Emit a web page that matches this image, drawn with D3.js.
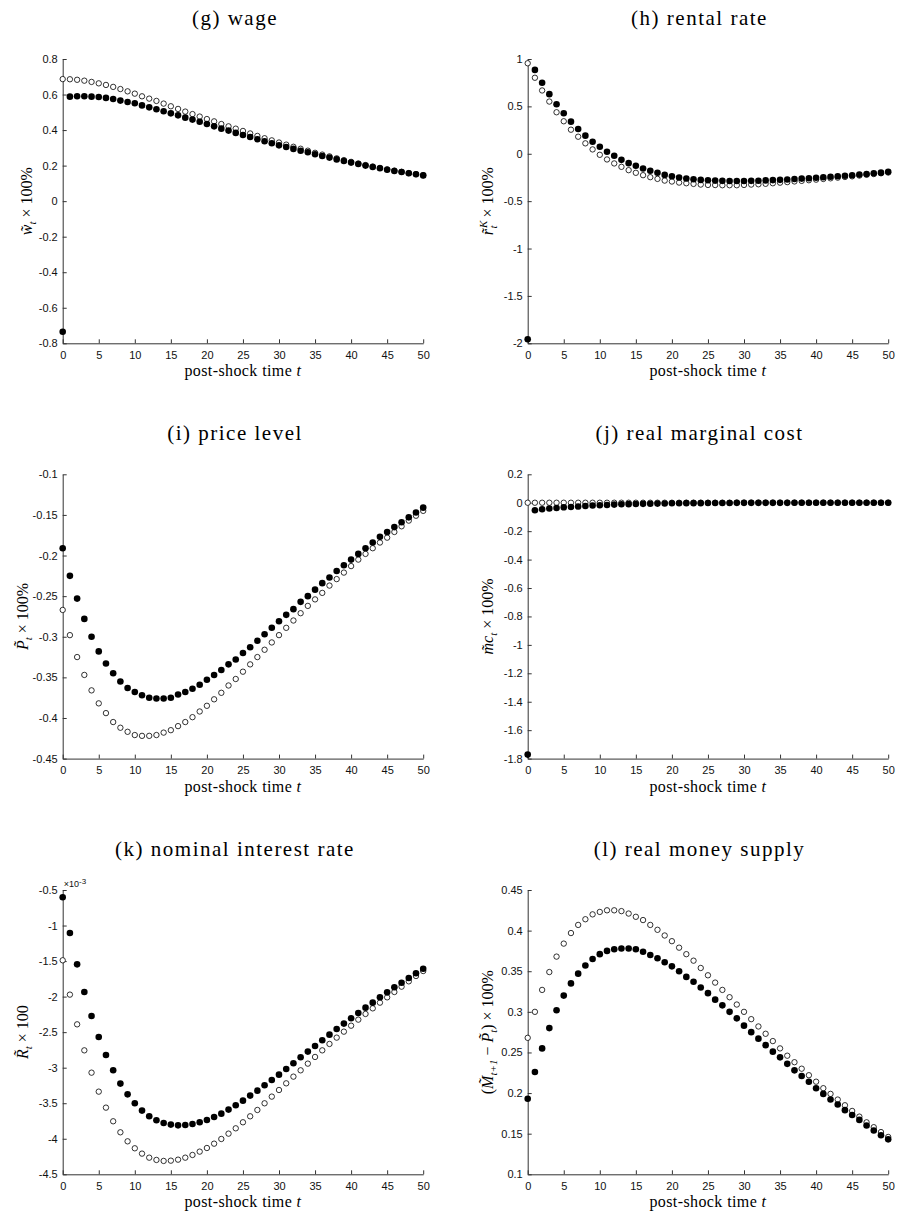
<!DOCTYPE html>
<html>
<head>
<meta charset="utf-8">
<script src="https://cdn.jsdelivr.net/npm/d3@7"></script>
<style>
  body { margin: 0; background: #fff; }
  .title { font-family: "Liberation Serif", serif; font-size: 21px; letter-spacing: 1.5px; fill: #000; }
  .xlab { font-family: "Liberation Serif", serif; font-size: 16px; letter-spacing: 0.4px; fill: #000; }
  .ylab { font-family: "Liberation Serif", serif; font-size: 16px; fill: #000; }
  .axis text { font-family: "Liberation Sans", Arial, sans-serif; font-size: 11px; fill: #111; }
  .axis path, .axis line { stroke: #333; stroke-width: 1; }
</style>
</head>
<body>
<div class="chart"></div>
<script>
// post-shock periods
var periods = [0,1,2,3,4,5,6,7,8,9,10,11,12,13,14,15,16,17,18,19,20,21,22,23,24,25,
               26,27,28,29,30,31,32,33,34,35,36,37,38,39,40,41,42,43,44,45,46,47,48,49,50];
var xTicks = [0,5,10,15,20,25,30,35,40,45,50];

// (g) wage
var wageOpen = [0.687,0.686,0.683,0.678,0.671,0.663,0.654,0.643,0.631,0.618,0.605,0.590,0.577,0.564,0.549,0.534,0.519,0.504,0.490,0.476,
                0.462,0.449,0.434,0.421,0.408,0.395,0.381,0.367,0.354,0.342,0.330,0.318,0.306,0.295,0.284,0.272,0.262,0.252,0.241,0.231,
                0.221,0.212,0.203,0.195,0.187,0.179,0.172,0.165,0.158,0.152,0.146];
var wageFilled = [-0.735,0.588,0.590,0.590,0.588,0.586,0.581,0.575,0.566,0.558,0.551,0.539,0.528,0.517,0.506,0.494,0.483,0.470,0.459,0.447,
                  0.434,0.421,0.408,0.397,0.384,0.372,0.361,0.348,0.337,0.326,0.314,0.305,0.294,0.284,0.275,0.264,0.254,0.245,0.235,0.226,
                  0.217,0.209,0.200,0.192,0.185,0.177,0.170,0.164,0.157,0.151,0.145];
var wageTicks = [-0.8,-0.6,-0.4,-0.2,0,0.2,0.4,0.6,0.8];

// (h) rental rate
var rentOpen = [0.955,0.802,0.668,0.551,0.438,0.343,0.254,0.180,0.110,0.046,-0.011,-0.060,-0.102,-0.138,-0.173,-0.201,-0.226,-0.247,-0.265,-0.283,
                -0.293,-0.304,-0.311,-0.318,-0.325,-0.329,-0.330,-0.332,-0.332,-0.332,-0.329,-0.325,-0.322,-0.317,-0.311,-0.305,-0.299,-0.292,-0.286,-0.279,
                -0.273,-0.266,-0.259,-0.252,-0.245,-0.238,-0.230,-0.222,-0.214,-0.206,-0.198];
var rentFilled = [-1.958,0.885,0.749,0.629,0.523,0.428,0.339,0.261,0.191,0.127,0.074,0.021,-0.021,-0.064,-0.099,-0.127,-0.155,-0.180,-0.201,-0.223,
                  -0.237,-0.251,-0.261,-0.269,-0.276,-0.279,-0.283,-0.286,-0.287,-0.287,-0.287,-0.286,-0.284,-0.281,-0.278,-0.275,-0.271,-0.266,-0.262,-0.258,
                  -0.253,-0.248,-0.243,-0.238,-0.232,-0.226,-0.220,-0.213,-0.206,-0.199,-0.191];
var rentTicks = [-2,-1.5,-1,-0.5,0,0.5,1];

// (i) price level
var priceOpen = [-0.267,-0.298,-0.325,-0.347,-0.366,-0.382,-0.394,-0.405,-0.412,-0.417,-0.421,-0.422,-0.422,-0.421,-0.418,-0.415,-0.410,-0.405,-0.399,-0.392,
                 -0.385,-0.377,-0.369,-0.360,-0.352,-0.343,-0.334,-0.325,-0.316,-0.307,-0.298,-0.289,-0.280,-0.271,-0.262,-0.254,-0.246,-0.237,-0.229,-0.221,
                 -0.213,-0.205,-0.198,-0.191,-0.184,-0.178,-0.171,-0.164,-0.157,-0.151,-0.145];
var priceFilled = [-0.191,-0.225,-0.253,-0.278,-0.300,-0.318,-0.333,-0.345,-0.355,-0.363,-0.368,-0.372,-0.375,-0.376,-0.376,-0.375,-0.371,-0.368,-0.364,-0.359,
                   -0.353,-0.347,-0.341,-0.334,-0.328,-0.320,-0.313,-0.305,-0.297,-0.289,-0.281,-0.273,-0.266,-0.257,-0.250,-0.242,-0.234,-0.227,-0.219,-0.212,
                   -0.205,-0.198,-0.191,-0.184,-0.177,-0.171,-0.165,-0.159,-0.153,-0.147,-0.141];
var priceTicks = [-0.45,-0.4,-0.35,-0.3,-0.25,-0.2,-0.15,-0.1];

// (j) real marginal cost
var mcOpen = [0,0,0,0,0,0,0,0,0,0,0,0,0,0,0,0,0,0,0,0,
              0,0,0,0,0,0,0,0,0,0,0,0,0,0,0,0,0,0,0,0,
              0,0,0,0,0,0,0,0,0,0,0];
var mcFilled = [-1.772,-0.053,-0.046,-0.041,-0.037,-0.032,-0.030,-0.027,-0.023,-0.020,-0.018,-0.016,-0.013,-0.011,-0.010,-0.009,-0.008,-0.007,-0.006,-0.005,
                -0.004,-0.004,-0.003,-0.003,-0.003,-0.002,-0.002,-0.002,-0.002,-0.001,-0.001,-0.001,-0.001,-0.001,-0.001,-0.001,-0.001,0,0,0,
                0,0,0,0,0,0,0,0,0,0,0];
var mcTicks = [-1.8,-1.6,-1.4,-1.2,-1,-0.8,-0.6,-0.4,-0.2,0,0.2];

// (k) nominal interest rate, in units of 1e-3
var rateOpen = [-1.489,-1.972,-2.390,-2.756,-3.070,-3.337,-3.562,-3.754,-3.909,-4.036,-4.134,-4.209,-4.266,-4.298,-4.312,-4.308,-4.294,-4.266,-4.228,-4.181,
                -4.130,-4.069,-4.003,-3.928,-3.853,-3.768,-3.684,-3.595,-3.501,-3.407,-3.314,-3.220,-3.126,-3.037,-2.943,-2.849,-2.756,-2.666,-2.577,-2.493,
                -2.409,-2.324,-2.244,-2.165,-2.085,-2.010,-1.935,-1.860,-1.785,-1.710,-1.640];
var rateFilled = [-0.603,-1.105,-1.546,-1.935,-2.273,-2.568,-2.821,-3.037,-3.224,-3.375,-3.501,-3.604,-3.684,-3.740,-3.778,-3.801,-3.811,-3.806,-3.792,-3.768,
                  -3.736,-3.693,-3.647,-3.590,-3.529,-3.464,-3.393,-3.323,-3.248,-3.173,-3.098,-3.018,-2.938,-2.854,-2.774,-2.695,-2.615,-2.535,-2.455,-2.380,
                  -2.305,-2.230,-2.155,-2.085,-2.010,-1.940,-1.869,-1.804,-1.738,-1.672,-1.607];
var rateTicks = [-4.5,-4,-3.5,-3,-2.5,-2,-1.5,-1,-0.5];

// (l) real money supply
var moneyOpen = [0.268,0.300,0.327,0.349,0.368,0.384,0.397,0.407,0.414,0.420,0.423,0.425,0.425,0.424,0.421,0.417,0.413,0.407,0.401,0.394,
                 0.387,0.379,0.371,0.363,0.354,0.345,0.336,0.327,0.318,0.309,0.300,0.291,0.282,0.273,0.264,0.255,0.246,0.238,0.230,0.222,
                 0.214,0.206,0.199,0.192,0.185,0.178,0.171,0.164,0.158,0.152,0.146];
var moneyFilled = [0.193,0.226,0.255,0.280,0.302,0.320,0.335,0.347,0.357,0.365,0.371,0.375,0.377,0.378,0.378,0.377,0.374,0.370,0.366,0.361,
                   0.356,0.350,0.343,0.337,0.330,0.323,0.315,0.308,0.300,0.292,0.283,0.275,0.267,0.259,0.251,0.244,0.236,0.228,0.221,0.214,
                   0.206,0.199,0.192,0.186,0.179,0.173,0.167,0.160,0.154,0.148,0.143];
var moneyTicks = [0.1,0.15,0.2,0.25,0.3,0.35,0.4,0.45];

// layout
var width = 897, height = 1212;
var colLeft = [62.7, 527.7], rowTop = [59, 474.3, 890];
var plotW = 360.5, plotH = 284.3;

var panels = [
  {title: "(g) wage", open: wageOpen, filled: wageFilled, ticks: wageTicks, col: 0, row: 0, ylab: "w"},
  {title: "(h) rental rate", open: rentOpen, filled: rentFilled, ticks: rentTicks, col: 1, row: 0, ylab: "r"},
  {title: "(i) price level", open: priceOpen, filled: priceFilled, ticks: priceTicks, col: 0, row: 1, ylab: "P"},
  {title: "(j) real marginal cost", open: mcOpen, filled: mcFilled, ticks: mcTicks, col: 1, row: 1, ylab: "mc"},
  {title: "(k) nominal interest rate", open: rateOpen, filled: rateFilled, ticks: rateTicks, col: 0, row: 2, ylab: "R"},
  {title: "(l) real money supply", open: moneyOpen, filled: moneyFilled, ticks: moneyTicks, col: 1, row: 2, ylab: "M"}
];

var svg = d3.select('.chart').append('svg')
            .attr('width', width)
            .attr('height', height);

var x = d3.scaleLinear().domain([0, 50]).range([0, plotW]);

function fmt(d) { return String(+d.toFixed(2)); }

// rotated y label built from tspans (italic symbol, sub/superscripts)
function yLabel(g, kind) {
  var t = g.append('text').attr('class', 'ylab')
           .attr('text-anchor', 'middle')
           .attr('transform', 'translate(' + (kind == 'w' ? -31 : -35) + ',' + (plotH / 2) + ') rotate(-90)');
  function it(s) { return t.append('tspan').style('font-style', 'italic').text(s); }
  function sub(s) { return t.append('tspan').style('font-style', 'italic').attr('font-size', 11).attr('dy', 4).text(s); }
  function up(s, dy) { return t.append('tspan').attr('dy', dy).text(s); }
  if (kind == 'w') { it('w\u0303'); sub('t'); up(' \u00d7 100%', -4); }
  if (kind == 'r') {
    it('r\u0303');
    t.append('tspan').style('font-style', 'italic').attr('font-size', 11).attr('dx', 1).attr('dy', -6).text('K');
    t.append('tspan').style('font-style', 'italic').attr('font-size', 11).attr('dx', -8).attr('dy', 10).text('t');
    t.append('tspan').attr('dx', 4).attr('dy', -4).text(' \u00d7 100%');
  }
  if (kind == 'P') { it('P\u0303'); sub('t'); up(' \u00d7 100%', -4); }
  if (kind == 'mc') { it('m\u0303c'); sub('t'); up(' \u00d7 100%', -4); }
  if (kind == 'R') { it('R\u0303'); sub('t'); up(' \u00d7 100', -4); }
  if (kind == 'M') {
    t.append('tspan').text('(');
    it('M\u0303'); sub('t+1'); up(' \u2212 ', -4); it('P\u0303'); sub('t'); up(') \u00d7 100%', -4);
  }
}

panels.forEach(function(p) {
  var left = colLeft[p.col], top = rowTop[p.row];
  var g = svg.append('g').attr('transform', 'translate(' + left + ',' + top + ')');

  var y = d3.scaleLinear()
            .domain([p.ticks[0], p.ticks[p.ticks.length - 1]])
            .range([plotH, 0]);

  g.append('g').attr('class', 'x axis')
   .attr('transform', 'translate(0,' + plotH + ')')
   .call(d3.axisBottom(x).tickValues(xTicks).tickSizeInner(-4).tickSizeOuter(0).tickPadding(8));

  g.append('g').attr('class', 'y axis')
   .call(d3.axisLeft(y).tickValues(p.ticks).tickFormat(fmt).tickSizeInner(-4).tickSizeOuter(0).tickPadding(5));

  // open markers first, filled drawn on top
  g.append('g').selectAll('circle').data(periods).enter().append('circle')
   .attr('cx', function(d) { return x(d); })
   .attr('cy', function(d, i) { return y(p.open[i]); })
   .attr('r', 2.7)
   .attr('fill', '#fff').attr('stroke', '#000').attr('stroke-width', 0.8);

  g.append('g').selectAll('circle').data(periods).enter().append('circle')
   .attr('cx', function(d) { return x(d); })
   .attr('cy', function(d, i) { return y(p.filled[i]); })
   .attr('r', 3.3)
   .attr('fill', '#000');

  svg.append('text').attr('class', 'title')
     .attr('text-anchor', 'middle')
     .attr('x', p.col == 0 ? 235 : 699.5)
     .attr('y', top - 34)
     .text(p.title);

  g.append('text').attr('class', 'xlab')
   .attr('text-anchor', 'middle')
   .attr('x', plotW / 2)
   .attr('y', plotH + 33)
   .text('post-shock time ')
   .append('tspan').style('font-style', 'italic').text('t');

  yLabel(g, p.ylab);

  if (p.ylab == 'R') {
    var ex = g.append('text').attr('x', 1).attr('y', -3)
              .style('font-family', '"Liberation Sans", Arial, sans-serif')
              .style('font-size', '9px').attr('fill', '#111');
    ex.append('tspan').text('\u00d710');
    ex.append('tspan').attr('dy', -3).attr('font-size', 8).text('-3');
  }
});
</script>
</body>
</html>
